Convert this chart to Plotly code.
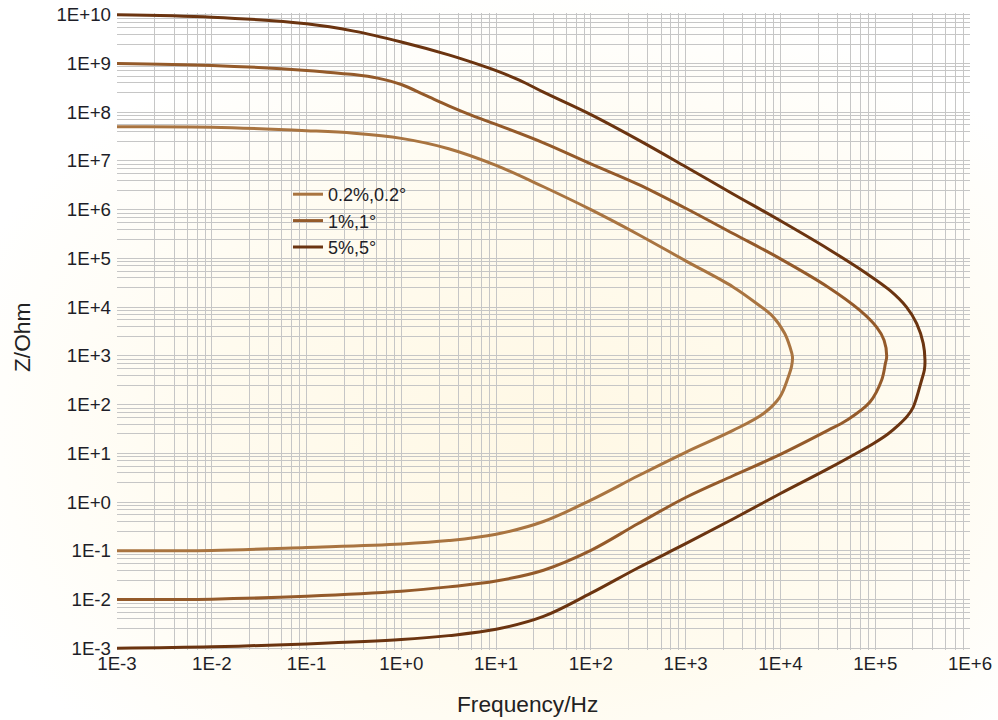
import base64
import plotly.graph_objects as go

# ---- data (frequency in Hz, |Z| in Ohm) ----
freq_02 = [1e-3, 0.01, 0.1, 0.316, 1, 3.16, 10, 31.6, 100, 316, 1000, 3160, 5600, 8400, 1.11e4,
           1.26e4, 1.34e4, 1.31e4, 1.21e4, 9860, 6580, 3160, 1000, 316, 100, 31.6, 10, 3.16, 1,
           0.1, 0.01, 1e-3]
z_02 = [5.0e7, 4.9e7, 4.17e7, 3.7e7, 2.9e7, 1.78e7, 8.1e6, 2.95e6, 1.0e6, 3.1e5, 8.9e4, 2.6e4,
        1.19e4, 6.3e3, 2.87e3, 1.52e3, 9.5e2, 6.1e2, 369, 143, 65, 29.5, 10.5, 3.47, 1.10, 0.40,
        0.219, 0.162, 0.138, 0.117, 0.102, 0.100]

freq_1 = [1e-3, 0.01, 0.1, 0.178, 0.316, 0.562, 1, 1.78, 3.16, 5.62, 10, 31.6, 100, 316, 1000,
          3160, 1e4, 3.16e4, 6.9e4, 1.035e5, 1.24e5, 1.32e5, 1.28e5, 1.17e5, 8.8e4, 5.0e4, 3.16e4,
          1e4, 3160, 1000, 316, 100, 31.6, 10, 3.16, 1, 0.1, 0.01, 1e-3]
z_1 = [1.0e9, 9.1e8, 7.2e8, 6.5e8, 5.9e8, 5.0e8, 3.7e8, 2.24e8, 1.35e8, 8.5e7, 5.6e7, 2.35e7,
       8.7e6, 3.3e6, 1.07e6, 3.24e5, 9.8e4, 2.6e4, 8.6e3, 3.9e3, 2.1e3, 9.5e2, 7.0e2, 3.2e2, 113,
       47.6, 29.5, 9.5, 3.47, 1.24, 0.363, 0.102, 0.040, 0.024, 0.0182, 0.0148, 0.0117, 0.0102,
       0.0100]

freq_5 = [1e-3, 0.01, 0.1, 0.316, 1, 3.16, 5.62, 10, 17.8, 31.6, 100, 316, 1000, 3160, 1e4,
          3.16e4, 8.1e4, 1.43e5, 2.14e5, 2.74e5, 3.21e5, 3.35e5, 3.30e5, 3.09e5, 2.52e5, 2.19e5,
          1.77e5, 1.35e5, 9.5e4, 3.16e4, 1e4, 3160, 1000, 316, 100, 31.6, 10, 3.16, 1, 0.1, 0.01,
          1e-3]
z_5 = [1.0e10, 8.9e9, 6.5e9, 4.6e9, 2.75e9, 1.5e9, 1.05e9, 7.1e8, 4.5e8, 2.57e8, 8.9e7, 2.7e7,
       7.6e6, 2.1e6, 5.9e5, 1.58e5, 4.9e4, 2.2e4, 1.0e4, 4.6e3, 1.8e3, 8.1e2, 5.1e2, 3.2e2, 89,
       58.6, 38.3, 24.7, 15.8, 4.8, 1.5, 0.45, 0.14, 0.045, 0.0135, 0.0045, 0.00245, 0.00182,
       0.00151, 0.00123, 0.00107, 0.0010]

series_names = ["0.2%,0.2°", "1%,1°", "5%,5°"]
series_colors = ["#a97440", "#945a2a", "#6b3410"]

x_decades = [1e-3, 1e-2, 1e-1, 1e0, 1e1, 1e2, 1e3, 1e4, 1e5, 1e6]
x_labels = ["1E-3", "1E-2", "1E-1", "1E+0", "1E+1", "1E+2", "1E+3", "1E+4", "1E+5", "1E+6"]
y_decades = [1e-3, 1e-2, 1e-1, 1e0, 1e1, 1e2, 1e3, 1e4, 1e5, 1e6, 1e7, 1e8, 1e9, 1e10]
y_labels = ["1E-3", "1E-2", "1E-1", "1E+0", "1E+1", "1E+2", "1E+3", "1E+4", "1E+5", "1E+6",
            "1E+7", "1E+8", "1E+9", "1E+10"]
minor_steps = [2.5, 4.0, 5.5, 7.0, 8.5]


def grid_ticks(decades, labels):
    vals, texts = [], []
    for i, (d, lab) in enumerate(zip(decades, labels)):
        vals.append(d)
        texts.append(lab)
        if i < len(decades) - 1:
            for m in minor_steps:
                vals.append(d * m)
                texts.append("")
    return vals, texts


xt_vals, xt_text = grid_ticks(x_decades, x_labels)
yt_vals, yt_text = grid_ticks(y_decades, y_labels)

W, H = 998, 720
ML, MR, MT, MB = 117, 28, 13, 70
PW, PH = W - ML - MR, H - MT - MB

fig = go.Figure()
for name, col, fx, zy in zip(series_names, series_colors,
                             [freq_02, freq_1, freq_5], [z_02, z_1, z_5]):
    fig.add_trace(go.Scatter(x=fx, y=zy, mode="lines", name=name,
                             line=dict(color=col, width=3, shape="spline", smoothing=1.0)))

svg = ('<svg xmlns="http://www.w3.org/2000/svg" width="998" height="720" preserveAspectRatio="none">'
       '<defs><radialGradient id="g" cx="0.55" cy="0.6" r="0.62">'
       '<stop offset="0" stop-color="#fff8e5"/><stop offset="0.55" stop-color="#fffbef"/>'
       '<stop offset="1" stop-color="#ffffff"/></radialGradient></defs>'
       '<rect width="998" height="720" fill="url(#g)"/></svg>')
src = "data:image/svg+xml;base64," + base64.b64encode(svg.encode()).decode()

font_family = "Liberation Sans, Arial, sans-serif"
grid_col = "#c6c6c6"

fig.update_layout(
    width=W, height=H,
    margin=dict(l=ML, r=MR, t=MT, b=MB, autoexpand=False),
    paper_bgcolor="#ffffff",
    plot_bgcolor="rgba(0,0,0,0)",
    font=dict(family=font_family, size=18.7, color="#1e1e28"),
    images=[dict(source=src, xref="paper", yref="paper", x=-ML / PW, y=1 + MT / PH,
                 sizex=W / PW, sizey=H / PH, sizing="stretch", xanchor="left", yanchor="top",
                 layer="below")],
    showlegend=True,
    legend=dict(x=(288 - ML) / PW, y=1 - (176 - MT) / PH, xanchor="left", yanchor="top",
                bgcolor="rgba(0,0,0,0)", borderwidth=0, itemwidth=30, tracegroupgap=0,
                font=dict(family=font_family, size=18, color="#1e1e28")),
    annotations=[
        dict(text="Frequency/Hz", xref="paper", yref="paper", x=(527 - ML) / PW,
             y=1 - (704 - MT) / PH, showarrow=False, xanchor="center", yanchor="middle",
             font=dict(family=font_family, size=22.7, color="#222222")),
        dict(text="Z/Ohm", xref="paper", yref="paper", x=(22 - ML) / PW,
             y=1 - (338 - MT) / PH, showarrow=False, textangle=-90, xanchor="center",
             yanchor="middle", font=dict(family=font_family, size=22.7, color="#222222")),
    ],
)

fig.update_xaxes(type="log", range=[-3, 6], tickmode="array", tickvals=xt_vals, ticktext=xt_text,
                 showgrid=True, gridcolor=grid_col, gridwidth=1.3, zeroline=False, showline=False,
                 ticks="", tickfont=dict(size=18.7), fixedrange=True, automargin=False)
fig.update_yaxes(type="log", range=[-3.035, 10.035], tickmode="array", tickvals=yt_vals,
                 ticktext=yt_text, showgrid=True, gridcolor=grid_col, gridwidth=1.3, zeroline=False,
                 showline=False, ticks="", tickfont=dict(size=18.7), fixedrange=True,
                 automargin=False, ticklabelstandoff=5)

fig.write_html("out.html", config={"displayModeBar": False},
               post_script="document.body.style.margin='0px';")
